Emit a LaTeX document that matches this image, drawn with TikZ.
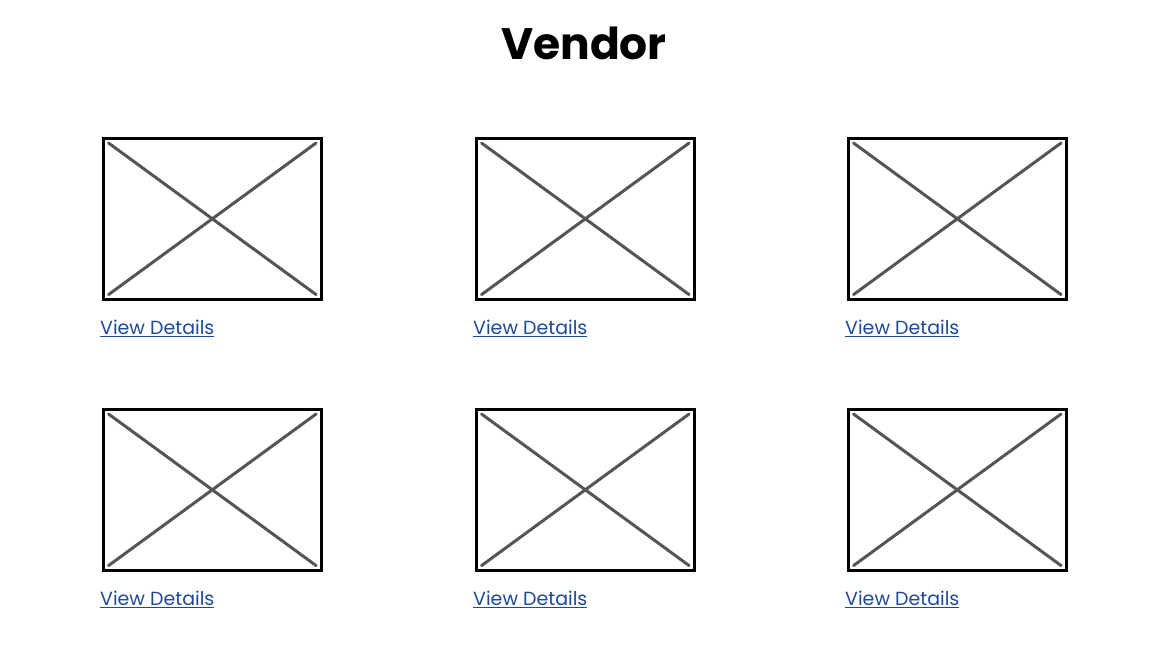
\documentclass[tikz,border=0pt]{standalone}
\usepackage{fontspec}
\setmainfont{Poppins}
\definecolor{linkblue}{HTML}{1C4A96}
\definecolor{crossgray}{HTML}{555555}
\begin{document}
\begin{tikzpicture}[x=1pt,y=-1pt,
  imgbox/.style={draw=black,line width=2.6pt,minimum width=218pt,minimum height=161pt,inner sep=0pt,anchor=north west},
  cross/.style={draw=crossgray,line width=3pt,line cap=round},
  linklabel/.style={text=linkblue,font=\fontsize{19}{22}\selectfont,inner sep=0pt,anchor=base west},
  titletext/.style={font=\fontsize{44}{50}\selectfont\bfseries,inner sep=0pt}]
\useasboundingbox (0,0) rectangle (1152,658);
\node[titletext] (title) at (584,43) {Vendor};
\foreach \col/\x in {1/102,2/475,3/847}{
  \foreach \row/\y in {1/137,2/408}{
    \node[imgbox] (img\col\row) at (\x,\y) {};
    \draw[cross] ([shift={(6.5pt,-6pt)}]img\col\row.north west) -- ([shift={(-6.5pt,6pt)}]img\col\row.south east);
    \draw[cross] ([shift={(-6.5pt,-6pt)}]img\col\row.north east) -- ([shift={(6.5pt,6pt)}]img\col\row.south west);
    \node[linklabel] (lnk\col\row) at ([shift={(-2pt,-34pt)}]img\col\row.south west) {\underline{View Details}};
  }
}
\end{tikzpicture}
\end{document}
